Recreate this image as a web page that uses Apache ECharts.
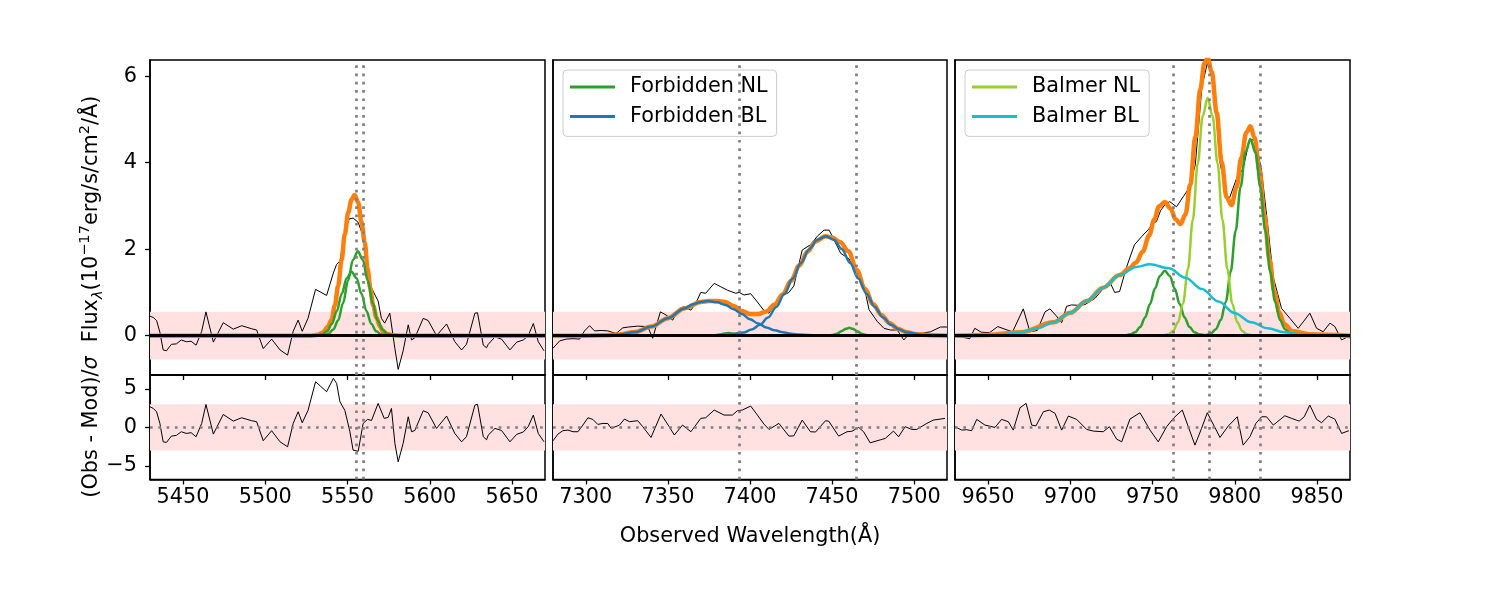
<!DOCTYPE html>
<html>
<head>
<meta charset="utf-8">
<title>Emission line fit</title>
<script src="https://cdn.jsdelivr.net/npm/echarts@6.0.0/dist/echarts.min.js"></script>
<style>
  html, body { margin: 0; padding: 0; background: #fff; }
  #chart { width: 1500px; height: 600px; }
</style>
</head>
<body>
<div id="chart"></div>
<script>
// ---- axis ranges and ticks ----
const xRange1 = [5430, 5670];
const xRange2 = [7280, 7520];
const xRange3 = [9630, 9870];
const fluxRange = [-0.91, 6.375];
const residRange = [-6.76, 6.8];
const xTicks1 = [5450, 5500, 5550, 5600, 5650];
const xTicks2 = [7300, 7350, 7400, 7450, 7500];
const xTicks3 = [9650, 9700, 9750, 9800, 9850];
const fluxTicks = [0, 2, 4, 6];
const residTicks = [-5, 0, 5];
const fluxBand = 0.55;
const residBand = 3;

// expected line centres (dotted markers)
const lines1 = [5555.1, 5559.3];
const lines2 = [7393.2, 7464.8];
const lines3 = [9762.6, 9784.6, 9815.4];

// ---- panel 1: [OII] ----
const obs1 = [[5430,0.45],[5432,0.42],[5434,0.35],[5436,0.08],[5438,-0.33],[5440,-0.35],[5443,-0.2],[5446,-0.19],[5449,-0.1],[5452,-0.14],[5455,-0.13],[5458,-0.22],[5461.4,0.1],[5464,0.55],[5468.5,-0.15],[5474.5,0.3],[5480.6,0.15],[5485.7,0.23],[5491.7,0.16],[5494.8,0.13],[5498.8,-0.3],[5503.9,-0.08],[5509,-0.33],[5513.6,-0.45],[5517,0.1],[5520,0.36],[5522.5,0.1],[5526,0.4],[5530.6,1.07],[5537.3,0.93],[5541.4,1.45],[5543.4,1.65],[5545.4,1.72],[5548.4,2.4],[5551,2.7],[5553.4,2.72],[5556.5,2.62],[5559.5,2.3],[5562.2,1.62],[5564.6,1.1],[5568.6,0.8],[5570.6,0.4],[5572.6,0.29],[5575.7,0.52],[5578.8,-0.3],[5580.8,-0.78],[5583.8,-0.35],[5586.9,0.25],[5588.9,-0.1],[5590.9,-0.05],[5596,0.4],[5599,0.35],[5604.1,0.0],[5610.2,0.27],[5615.2,-0.14],[5619.3,-0.33],[5622.3,-0.2],[5627.4,0.52],[5629,0.53],[5632.5,-0.22],[5634.5,-0.28],[5635.5,-0.2],[5639.6,-0.03],[5643.6,-0.08],[5648.7,-0.33],[5652.8,-0.15],[5656.8,-0.1],[5659.8,0.0],[5662.9,0.28],[5665.9,-0.14],[5669.4,-0.35]];
const model1 = [[5430,0],[5528,0],[5532,0.02],[5535,0.07],[5538,0.2],[5540.3,0.36],[5542.3,0.7],[5544.3,1.15],[5546.4,1.75],[5548.4,2.35],[5550.4,2.85],[5552.5,3.15],[5554.3,3.25],[5556.5,3.08],[5558.5,2.62],[5560.5,2.15],[5562.2,1.55],[5563.8,1.1],[5565.6,0.7],[5567.6,0.42],[5569.6,0.22],[5571.6,0.1],[5574,0.04],[5578,0.01],[5582,0],[5670,0]];
const nl1a = [[5430,0],[5530,0],[5534.5,0.03],[5537.5,0.1],[5540.5,0.27],[5543.5,0.57],[5546.5,0.97],[5549.5,1.33],[5552.5,1.48],[5555.5,1.33],[5558.5,0.97],[5561.5,0.57],[5564.5,0.27],[5567.5,0.1],[5570.5,0.03],[5575,0],[5670,0]];
const nl1b = [[5430,0],[5534,0],[5538.3,0.04],[5541.3,0.14],[5544.3,0.35],[5547.3,0.75],[5550.3,1.27],[5553.3,1.75],[5556.3,1.95],[5559.3,1.75],[5562.3,1.27],[5565.3,0.75],[5568.3,0.35],[5571.3,0.14],[5574.3,0.04],[5579,0],[5670,0]];
const resid1 = [[5430,2.68],[5432,2.46],[5434,2.03],[5436,0.52],[5438,-1.87],[5440,-1.95],[5443,-1.13],[5446,-1.04],[5449,-0.56],[5452,-0.78],[5455,-0.69],[5458,-1.21],[5461.4,0.52],[5464,2.98],[5468.5,-0.87],[5474.5,1.68],[5480.6,0.82],[5485.7,1.25],[5491.7,0.87],[5494.8,0.74],[5498.8,-1.73],[5503.9,-0.43],[5509,-1.87],[5513.6,-2.51],[5517,0.52],[5520,2.03],[5522.5,0.6],[5526,2.2],[5530.6,5.93],[5537.3,4.63],[5541.4,6.36],[5543.4,5.71],[5545.4,3.33],[5548.4,2.2],[5551.4,-0.5],[5553.4,-2.95],[5556.5,-3.1],[5559.5,0.52],[5562.2,1.04],[5564.6,0.9],[5568.6,3.11],[5569.7,3.1],[5572.3,1.17],[5574.7,1.3],[5576.7,2.46],[5578.8,-2.08],[5580.8,-4.46],[5583.8,-2.08],[5586.9,1.38],[5588.9,-0.56],[5590.9,-0.4],[5596,2.16],[5599,1.9],[5604.1,-0.13],[5610.2,1.47],[5615.2,-0.78],[5619.3,-1.87],[5622.3,-1.2],[5627.4,2.89],[5629,3.0],[5632.5,-1.21],[5634.5,-1.6],[5635.5,-1.0],[5639.6,-0.13],[5643.6,-0.4],[5648.7,-1.87],[5652.8,-0.9],[5656.8,-0.6],[5659.8,0.1],[5662.9,1.6],[5665.9,-0.78],[5669.4,-1.87]];

// ---- panel 2: [OIII] ----
const obs2 = [[7280,-0.29],[7284.1,-0.12],[7288.1,-0.08],[7292.2,-0.07],[7296.2,-0.08],[7299.2,0.11],[7302.3,0.23],[7305.3,0.11],[7309.3,0.12],[7313.4,0.11],[7318.4,0.05],[7322.5,0.18],[7326,0.2],[7331.6,0.22],[7337.7,0.21],[7340.7,-0.06],[7345.4,0.55],[7348.8,0.48],[7352.9,0.36],[7356.9,0.63],[7359.9,0.67],[7364,0.59],[7367,0.75],[7370,1.0],[7373,0.98],[7378.2,1.21],[7382.2,1.13],[7386.3,1.05],[7391.3,0.98],[7393.4,1.0],[7396.4,0.94],[7400.4,0.97],[7404.5,0.78],[7408.5,0.58],[7411.6,0.52],[7417.6,0.88],[7423.7,1.0],[7426.7,1.15],[7431.8,1.98],[7436.8,2.1],[7441,2.3],[7445.1,2.44],[7448.2,2.44],[7450.2,2.29],[7455.3,1.9],[7460.3,1.78],[7465,1.4],[7469.4,1.17],[7472.5,0.6],[7477.5,0.33],[7481.6,0.17],[7485.6,0.13],[7489.7,0.13],[7493.7,-0.1],[7497.8,0.08],[7503.9,0.05],[7510,0.09],[7516,0.2],[7520,0.2]];
const model2 = [[7280,0],[7300,0],[7310,0.007],[7320,0.028],[7330,0.085],[7340,0.21],[7350,0.405],[7360,0.63],[7370,0.78],[7375,0.8],[7380,0.8],[7385,0.78],[7390,0.685],[7395,0.57],[7400,0.5],[7405,0.5],[7410,0.56],[7415,0.72],[7420,0.96],[7425,1.27],[7430,1.62],[7435,1.94],[7440,2.18],[7446,2.3],[7450,2.27],[7455,2.16],[7460,1.95],[7465,1.52],[7470,1.08],[7475,0.73],[7480,0.48],[7485,0.29],[7490,0.16],[7495,0.086],[7500,0.04],[7510,0.01],[7520,0]];
const nl2a = [[7280,0],[7375,0],[7379,0.01],[7382,0.028],[7384.5,0.05],[7387,0.06],[7389.5,0.05],[7392,0.028],[7395,0.01],[7399,0],[7520,0]];
const nl2b = [[7280,0],[7446,0],[7450,0.013],[7453,0.045],[7456,0.11],[7458.5,0.16],[7460.5,0.18],[7462.5,0.16],[7465,0.11],[7468,0.045],[7471,0.013],[7475,0],[7520,0]];
const bl2a = [[7280,0],[7300,0.001],[7310,0.007],[7320,0.028],[7330,0.085],[7340,0.21],[7350,0.405],[7360,0.63],[7365,0.72],[7370,0.78],[7374.5,0.8],[7380,0.77],[7385,0.71],[7390,0.61],[7395,0.5],[7400,0.38],[7405,0.28],[7410,0.19],[7415,0.125],[7420,0.077],[7425,0.045],[7430,0.025],[7440,0.006],[7455,0],[7520,0]];
const bl2b = [[7280,0],[7376,0],[7386,0.016],[7396,0.072],[7401,0.14],[7406,0.25],[7411,0.42],[7416,0.66],[7421,0.97],[7426,1.32],[7431,1.68],[7436,2.0],[7441,2.22],[7446.3,2.3],[7451,2.22],[7456,2.0],[7461,1.68],[7466,1.32],[7471,0.97],[7476,0.66],[7481,0.42],[7486,0.25],[7491,0.14],[7496,0.072],[7506,0.016],[7516,0.003],[7520,0]];
const resid2 = [[7280,-1.74],[7283,-0.87],[7286,-0.43],[7289.1,-0.35],[7292.2,-0.56],[7295.2,-0.56],[7298.2,0.3],[7301.3,1.25],[7304.3,1.03],[7307.3,0.39],[7310.4,0.52],[7313.4,0.5],[7315.4,-0.13],[7320.5,0.3],[7323.5,1.08],[7326.6,0.74],[7331.6,0.87],[7334.7,0.09],[7339.7,-1.3],[7345.8,1.73],[7350.8,0.09],[7353.9,-0.99],[7358.9,0.3],[7364,-0.56],[7370,1.17],[7373,1.25],[7378.2,2.25],[7384.2,1.6],[7389.3,1.6],[7392.3,2.16],[7395.3,2.25],[7400.4,2.77],[7404.5,1.6],[7408.5,0.43],[7411.6,-0.26],[7417.6,0.52],[7423.7,-1.13],[7426.7,-1.1],[7431.8,0.95],[7436.8,-0.56],[7439.9,-0.6],[7446,0.87],[7448,0.8],[7454,-1.13],[7459.1,-0.56],[7462.1,-0.5],[7466.2,0.0],[7469.2,-0.56],[7473.2,-2.0],[7477.3,-1.74],[7482.4,-1.43],[7487.4,-0.48],[7490.5,-1.21],[7494.5,0.09],[7498.6,-0.26],[7501.6,-0.26],[7507.7,0.52],[7511.7,0.95],[7518.8,1.17]];

// ---- panel 3: Halpha + [NII] ----
const obs3 = [[9630,-0.02],[9635,-0.04],[9639,-0.07],[9642,0.17],[9646,0.08],[9651,0.07],[9656,0.21],[9661,0.14],[9665,0.09],[9671.5,0.62],[9675.5,0.09],[9680,0.12],[9684.7,0.55],[9687.7,0.62],[9691.7,0.45],[9694.8,0.3],[9697.8,0.68],[9700.8,0.71],[9705.9,0.7],[9709,0.72],[9715,0.86],[9721,1.13],[9724,1.25],[9727,1.0],[9730,1.02],[9734,1.56],[9739,2.1],[9743.4,2.29],[9747.4,2.45],[9750.4,2.6],[9752.4,2.64],[9755,2.9],[9758,3.05],[9760.5,3.1],[9764.6,2.98],[9768.6,3.21],[9772,3.4],[9776,3.95],[9780,5.75],[9783.3,6.3],[9787,5.9],[9791,4.0],[9796,3.1],[9801.5,3.68],[9805,3.85],[9809,4.55],[9812.8,4.5],[9816.3,3.8],[9819.3,2.8],[9823.4,1.35],[9828.4,0.63],[9833.5,0.4],[9838.5,0.17],[9841.6,0.32],[9845.6,0.52],[9849.7,0.17],[9853.7,0.09],[9857.8,0.29],[9860.8,0.21],[9864.9,-0.1],[9867.9,-0.04],[9870,-0.05]];
const model3 = [[9630,0],[9650,0.015],[9670,0.08],[9690,0.31],[9700,0.53],[9710,0.8],[9720,1.11],[9730,1.4],[9736,1.56],[9740,1.69],[9744,1.94],[9748,2.32],[9751,2.68],[9754,2.99],[9757.5,3.09],[9761,2.94],[9764,2.69],[9767,2.58],[9770,2.8],[9773,3.5],[9776,4.58],[9779,5.68],[9781.5,6.3],[9783.5,6.42],[9786,6.1],[9789,5.15],[9792,4.02],[9795,3.2],[9798,3.02],[9801,3.42],[9804,4.12],[9807,4.7],[9809.5,4.84],[9812,4.58],[9815,3.82],[9818,2.78],[9821,1.78],[9824,1.02],[9827,0.54],[9830,0.27],[9835,0.1],[9845,0.035],[9870,0]];
const fn3 = [[9630,0],[9733,0],[9736.5,0.03],[9739.5,0.08],[9742.5,0.2],[9745.5,0.42],[9748.5,0.73],[9751.5,1.09],[9754.5,1.38],[9757.5,1.5],[9760.5,1.38],[9763.5,1.09],[9766.5,0.73],[9769.5,0.42],[9772.5,0.2],[9775.5,0.08],[9778.5,0.03],[9782,0.01],[9785.5,0.05],[9788.5,0.15],[9791.5,0.36],[9794.5,0.78],[9797.5,1.48],[9800.5,2.42],[9803.5,3.44],[9806.5,4.24],[9809.5,4.55],[9812.5,4.24],[9815.5,3.44],[9818.5,2.42],[9821.5,1.48],[9824.5,0.78],[9827.5,0.36],[9830.5,0.15],[9833.5,0.05],[9838,0],[9870,0]];
const bnl3 = [[9630,0],[9756,0],[9759.5,0.03],[9762.5,0.11],[9765.5,0.31],[9768.5,0.74],[9771.5,1.53],[9774.5,2.68],[9777.5,3.99],[9780.5,5.08],[9783.5,5.5],[9786.5,5.08],[9789.5,3.99],[9792.5,2.68],[9795.5,1.53],[9798.5,0.74],[9801.5,0.31],[9804.5,0.11],[9807.5,0.03],[9811,0],[9870,0]];
const bbl3 = [[9630,0.002],[9650,0.015],[9660,0.04],[9670,0.08],[9680,0.17],[9690,0.31],[9700,0.53],[9710,0.8],[9720,1.11],[9730,1.4],[9740,1.59],[9748.4,1.65],[9760,1.56],[9770,1.34],[9780,1.08],[9790,0.79],[9800,0.52],[9810,0.31],[9820,0.17],[9830,0.08],[9840,0.035],[9855,0.008],[9870,0]];
const resid3 = [[9630,0.09],[9634.1,-0.35],[9637.1,-0.3],[9640.1,-0.43],[9643.2,1.04],[9648.2,0.3],[9654.3,0],[9658.3,1.04],[9662.4,0.74],[9665.4,-0.35],[9669.5,2.55],[9673.2,3.12],[9676.6,0.3],[9679.2,0.2],[9683.7,2.03],[9687.3,2.25],[9690.8,1.82],[9694.8,-0.35],[9698.9,1.47],[9703.9,1.04],[9710,-0.26],[9714,-0.48],[9720.1,-0.56],[9723.8,0.09],[9728.2,-1.52],[9731.3,-1.87],[9736.3,1.08],[9742.4,1.9],[9748.5,-0.35],[9753.5,-1.87],[9758.6,0.09],[9763,1.25],[9768.1,2.25],[9775.8,-2.3],[9779.8,-0.13],[9783.3,1.9],[9791,-1.3],[9796,0.17],[9801.5,1.38],[9805.1,-2.3],[9809.2,-1.21],[9812.8,0.52],[9816.3,1.38],[9819.3,1.38],[9823.4,0.3],[9830.4,1.51],[9834.5,1.17],[9839.1,0.82],[9842.2,1.38],[9845.6,2.9],[9849.7,1.04],[9852.7,0.61],[9856.8,1.47],[9860.8,1.08],[9864.9,-0.78],[9869.3,-0.43]];

// ---- styling ----
const FONT = 'DejaVu Sans';
const FS = 20.8;
const C = {
  obs: '#000000', model: '#ff7f0e', fnl: '#2ca02c', fbl: '#1f77b4',
  bnl: '#9acd32', bbl: '#17becf', dot: '#808080', band: '#ffe1e1'
};
const DOT = { color: C.dot, type: [2.7, 5.6], width: 2.7, cap: 'butt' };

const chart = echarts.init(document.getElementById('chart'));

function line(name, data, color, width, idx, z, smooth) {
  return {
    type: 'line', name: name, data: data, xAxisIndex: idx, yAxisIndex: idx, z: z,
    showSymbol: false, symbol: 'none', silent: true,
    smooth: smooth ? 0.35 : false, smoothMonotone: 'x',
    lineStyle: { color: color, width: width }, itemStyle: { color: color }
  };
}

function withMarkers(s, band, centres, zeroStyle) {
  s.markArea = {
    silent: true, itemStyle: { color: C.band },
    data: [[{ yAxis: -band }, { yAxis: band }]]
  };
  s.markLine = {
    silent: true, symbol: ['none', 'none'], label: { show: false },
    lineStyle: DOT,
    data: centres.map(x => ({ xAxis: x })).concat([{ yAxis: 0, lineStyle: zeroStyle }])
  };
  return s;
}

const ZERO_SOLID = { color: '#000', type: 'solid', width: 3 };

const grids = [];
const lefts = [150, 553, 955], widths = [395, 394, 395];
for (let r = 0; r < 2; r++) {
  for (let c = 0; c < 3; c++) {
    grids.push({
      left: lefts[c], width: widths[c],
      top: r === 0 ? 60 : 375, height: r === 0 ? 315 : 104.5,
      show: true, borderColor: '#000', borderWidth: 1.5, backgroundColor: 'transparent'
    });
  }
}

const xRanges = [xRange1, xRange2, xRange3];
const xTicks = [xTicks1, xTicks2, xTicks3];
const xAxes = [], yAxes = [];
for (let i = 0; i < 6; i++) {
  const c = i % 3, bottom = i >= 3;
  xAxes.push({
    type: 'value', gridIndex: i, min: xRanges[c][0], max: xRanges[c][1],
    splitLine: { show: false },
    axisLine: { show: true, onZero: false, lineStyle: { color: '#000', width: 1.5 } },
    axisTick: { show: true, customValues: xTicks[c], length: 5, lineStyle: { color: '#000', width: 1.3 } },
    axisLabel: {
      show: bottom, customValues: xTicks[c], formatter: v => String(v),
      fontSize: FS, fontFamily: FONT, color: '#000', margin: 8
    }
  });
  const ticks = bottom ? residTicks : fluxTicks;
  yAxes.push({
    type: 'value', gridIndex: i,
    min: bottom ? residRange[0] : fluxRange[0], max: bottom ? residRange[1] : fluxRange[1],
    splitLine: { show: false },
    axisLine: { show: true, onZero: false, lineStyle: { color: '#000', width: 1.5 } },
    axisTick: { show: c === 0, customValues: ticks, length: 5, lineStyle: { color: '#000', width: 1.3 } },
    axisLabel: {
      show: c === 0, customValues: ticks, formatter: v => String(v).replace('-', '\u2212'),
      fontSize: FS, fontFamily: FONT, color: '#000', margin: 13
    }
  });
}

const series = [
  // panel 1
  withMarkers(line('obs1', obs1, C.obs, 1, 0, 2, false), fluxBand, lines1, ZERO_SOLID),
  line('model1', model1, C.model, 4.5, 0, 3, true),
  line('Forbidden NL', nl1a, C.fnl, 2.5, 0, 4, true),
  line('Forbidden NL', nl1b, C.fnl, 2.5, 0, 4, true),
  // panel 2
  withMarkers(line('obs2', obs2, C.obs, 1, 1, 2, false), fluxBand, lines2, ZERO_SOLID),
  line('model2', model2, C.model, 4.5, 1, 3, true),
  line('Forbidden NL', nl2a, C.fnl, 2.5, 1, 4, true),
  line('Forbidden NL', nl2b, C.fnl, 2.5, 1, 4, true),
  line('Forbidden BL', bl2a, C.fbl, 2.5, 1, 4, true),
  line('Forbidden BL', bl2b, C.fbl, 2.5, 1, 4, true),
  // panel 3
  withMarkers(line('obs3', obs3, C.obs, 1, 2, 2, false), fluxBand, lines3, ZERO_SOLID),
  line('model3', model3, C.model, 4.5, 2, 3, true),
  line('Forbidden NL', fn3, C.fnl, 2.5, 2, 4, true),
  line('Balmer NL', bnl3, C.bnl, 2.5, 2, 4, true),
  line('Balmer BL', bbl3, C.bbl, 2.5, 2, 4, true),
  // residuals
  withMarkers(line('res1', resid1, C.obs, 1, 3, 2, false), residBand, lines1, DOT),
  withMarkers(line('res2', resid2, C.obs, 1, 4, 2, false), residBand, lines2, DOT),
  withMarkers(line('res3', resid3, C.obs, 1, 5, 2, false), residBand, lines3, DOT)
];

function legendBox(left, items) {
  return {
    left: left, top: 70, orient: 'vertical', selectedMode: false,
    icon: 'rect', itemWidth: 45, itemHeight: 3, itemGap: 5.4,
    padding: [5, 9, 8, 7],
    backgroundColor: 'rgba(255,255,255,0.8)', borderColor: '#cccccc', borderWidth: 1, borderRadius: 4,
    textStyle: { fontSize: FS, fontFamily: FONT, color: '#000', lineHeight: 24, padding: [0, 0, 0, 10] },
    data: items.map(it => ({ name: it[0], itemStyle: { color: it[1], borderWidth: 0 } }))
  };
}

const rich = {
  n: { fontSize: FS, fontFamily: FONT, lineHeight: 28, verticalAlign: 'middle', fill: '#000' },
  s: { fontSize: 14.6, fontFamily: FONT, fontStyle: 'italic', lineHeight: 14, verticalAlign: 'bottom', fill: '#000' },
  p: { fontSize: 14.6, fontFamily: FONT, lineHeight: 14, verticalAlign: 'top', fill: '#000' },
  i: { fontSize: FS, fontFamily: FONT, fontStyle: 'italic', lineHeight: 28, verticalAlign: 'middle', fill: '#000' }
};

chart.setOption({
  animation: false,
  backgroundColor: '#ffffff',
  textStyle: { fontFamily: FONT },
  grid: grids,
  xAxis: xAxes,
  yAxis: yAxes,
  legend: [
    legendBox(563, [['Forbidden NL', C.fnl], ['Forbidden BL', C.fbl]]),
    legendBox(965, [['Balmer NL', C.bnl], ['Balmer BL', C.bbl]])
  ],
  graphic: [
    {
      type: 'text', x: 750, y: 537, silent: true,
      style: { text: 'Observed Wavelength(Å)', fontSize: FS, fontFamily: FONT, fill: '#000', align: 'center', verticalAlign: 'middle' }
    },
    {
      type: 'text', x: 92, y: 219, rotation: Math.PI / 2, silent: true,
      style: {
        text: '{n|Flux}{s|λ}{n|(10}{p|\u221217}{n|erg/s/cm}{p|2}{n|/Å)}',
        rich: rich, align: 'center', verticalAlign: 'middle'
      }
    },
    {
      type: 'text', x: 92, y: 427, rotation: Math.PI / 2, silent: true,
      style: {
        text: '{n|(Obs - Mod)/}{i|σ}',
        rich: rich, align: 'center', verticalAlign: 'middle'
      }
    }
  ],
  series: series
});
</script>
</body>
</html>
